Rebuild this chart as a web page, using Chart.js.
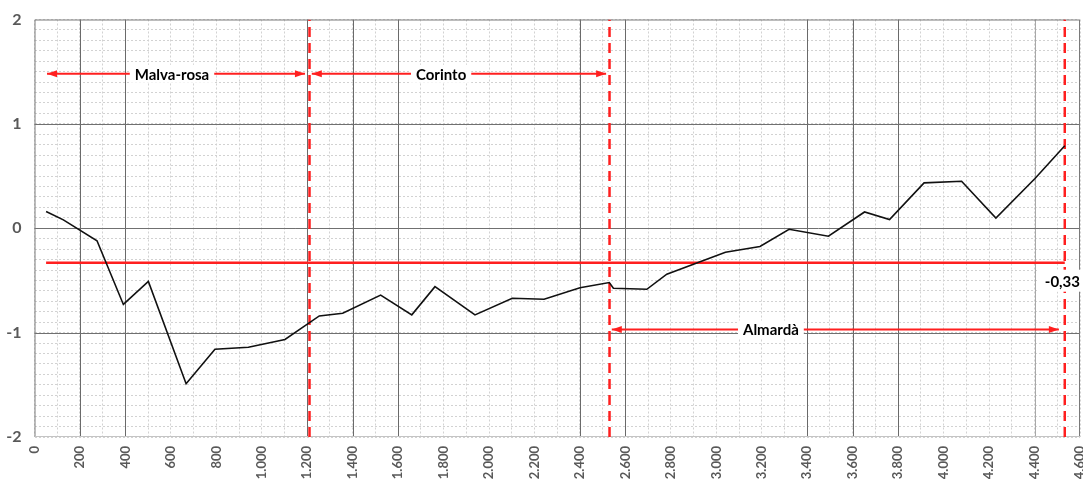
<!DOCTYPE html>
<html>
<head>
<meta charset="utf-8">
<script src="https://cdn.jsdelivr.net/npm/chart.js@4/dist/chart.umd.min.js"></script>
<style>
  html, body { margin: 0; padding: 0; background: #fff; }
  #wrap { width: 1083px; height: 479px; position: relative; }
</style>
</head>
<body>
<div id="wrap"><canvas id="chart"></canvas></div>
<script>
// Perfil (distància en m / valor)
const distances = [51, 127, 275, 391, 501, 667, 794, 941, 1102, 1253, 1356, 1523, 1660, 1762, 1938,
  2102, 2242, 2400, 2529, 2547, 2694, 2782, 3040, 3192, 3320, 3493, 3652, 3762, 3914, 4079, 4230, 4402, 4533];
const values = [0.16, 0.08, -0.12, -0.73, -0.51, -1.49, -1.16, -1.14, -1.065, -0.84, -0.815, -0.64, -0.83, -0.56, -0.83,
  -0.67, -0.68, -0.57, -0.52, -0.575, -0.585, -0.44, -0.23, -0.175, -0.01, -0.076, 0.156, 0.084, 0.435, 0.45, 0.097, 0.477, 0.79];

const meanValue = -0.33;
const meanLabel = '-0,33';

// Trams de platja
const zoneNames = ['Malva-rosa', 'Corinto', 'Almardà'];
const zoneFrom = [55, 1220, 2540];
const zoneTo = [1190, 2515, 4507];
const zoneLevel = [1.48, 1.48, -0.97];
const zoneTextAt = [605, 1789, 3240];
const zoneBounds = [1210, 2530, 4533];

// Línies principals de la graella
const majorX = [200, 400, 1200, 1400, 1600, 2400, 2600, 3400, 3600, 3800];
const majorY = [-1, 0, 1];

const fmt = v => String(v).replace(/\B(?=(\d{3})+(?!\d))/g, '.');

const datasets = [
  {
    label: 'perfil',
    data: distances.map((d, i) => ({ x: d, y: values[i] })),
    borderColor: '#111', borderWidth: 1.6, pointRadius: 0, showLine: true, tension: 0, order: 1
  },
  {
    label: 'mitjana',
    data: [{ x: distances[0], y: meanValue }, { x: distances[distances.length - 1], y: meanValue }],
    borderColor: '#ff1f1f', borderWidth: 2.5, pointRadius: 0, showLine: true, order: 2
  }
];
zoneBounds.forEach(b => datasets.push({
  label: 'límit',
  data: [{ x: b, y: -2 }, { x: b, y: 2 }],
  borderColor: '#ff1f1f', borderWidth: 2.5, borderDash: [10, 6], pointRadius: 0, showLine: true, order: 3
}));
zoneNames.forEach((n, i) => datasets.push({
  label: n,
  data: [{ x: zoneFrom[i], y: zoneLevel[i] }, { x: zoneTo[i], y: zoneLevel[i] }],
  borderColor: '#ff1f1f', borderWidth: 2, pointRadius: 0, showLine: true, order: 3
}));

const decor = {
  id: 'decor',
  beforeDatasetsDraw(chart) {
    const { ctx, chartArea: a, scales: { x, y } } = chart;
    ctx.save();
    ctx.lineWidth = 1;
    ctx.strokeStyle = '#6a6a6a';
    majorX.forEach(v => {
      const px = Math.round(x.getPixelForValue(v)) + 0.5;
      ctx.beginPath(); ctx.moveTo(px, a.top); ctx.lineTo(px, a.bottom); ctx.stroke();
    });
    ctx.strokeStyle = '#a8a8a8';
    const p44 = Math.round(x.getPixelForValue(4400)) + 0.5;
    ctx.beginPath(); ctx.moveTo(p44, a.top); ctx.lineTo(p44, a.bottom); ctx.stroke();
    ctx.strokeStyle = '#707070';
    majorY.forEach(v => {
      const py = Math.round(y.getPixelForValue(v)) + 0.5;
      ctx.beginPath(); ctx.moveTo(a.left, py); ctx.lineTo(a.right, py); ctx.stroke();
    });
    ctx.strokeStyle = '#7a7a7a';
    ctx.beginPath();
    ctx.moveTo(a.left + 0.5, a.bottom); ctx.lineTo(a.left + 0.5, a.top + 0.5);
    ctx.lineTo(a.right - 0.5, a.top + 0.5); ctx.lineTo(a.right - 0.5, a.bottom);
    ctx.stroke();
    ctx.strokeStyle = '#c4c4c4';
    ctx.beginPath(); ctx.moveTo(a.left, a.bottom - 0.5); ctx.lineTo(a.right, a.bottom - 0.5); ctx.stroke();
    ctx.restore();
  },
  afterDatasetsDraw(chart) {
    const { ctx, chartArea: a, scales: { x, y } } = chart;
    ctx.save();
    ctx.fillStyle = '#ff1f1f';
    const head = (px, py, dir) => {
      ctx.beginPath();
      ctx.moveTo(px, py);
      ctx.lineTo(px - dir * 10, py - 3.5);
      ctx.lineTo(px - dir * 10, py + 3.5);
      ctx.closePath(); ctx.fill();
    };
    ctx.font = 'bold 15px Lato, "Open Sans", sans-serif';
    ctx.textAlign = 'center';
    ctx.textBaseline = 'middle';
    zoneNames.forEach((n, i) => {
      const py = y.getPixelForValue(zoneLevel[i]);
      head(x.getPixelForValue(zoneFrom[i]), py, -1);
      head(x.getPixelForValue(zoneTo[i]), py, 1);
      const tx = x.getPixelForValue(zoneTextAt[i]);
      const w = ctx.measureText(n).width;
      ctx.fillStyle = '#fff';
      ctx.fillRect(tx - w / 2 - 5, py - 9, w + 10, 18);
      ctx.fillStyle = '#000';
      ctx.fillText(n, tx, py + 1);
      ctx.fillStyle = '#ff1f1f';
    });
    // etiqueta de la mitjana, ajustada a la vora dreta
    const my = y.getPixelForValue(meanValue) + 18;
    ctx.font = 'bold 15px Lato, "Open Sans", sans-serif';
    const mw = ctx.measureText(meanLabel).width;
    const mr = a.right;
    ctx.fillStyle = '#fff';
    ctx.fillRect(mr - mw - 7, my - 11, mw + 10, 22);
    ctx.fillStyle = '#000';
    ctx.textAlign = 'right';
    ctx.fillText(meanLabel, mr, my + 1);
    ctx.restore();
  }
};

new Chart(document.getElementById('chart'), {
  type: 'scatter',
  data: { datasets },
  options: {
    responsive: true,
    maintainAspectRatio: false,
    animation: false,
    layout: { padding: { top: 19.5, right: 3, left: 0, bottom: 0 } },
    plugins: { legend: { display: false }, tooltip: { enabled: false } },
    scales: {
      x: {
        type: 'linear', min: 0, max: 4600,
        afterFit: s => { s.height = 42; s.paddingLeft = 0; s.paddingRight = 0; },
        grid: { color: '#d2d2d2', lineWidth: 1, drawTicks: false },
        border: { display: false, dash: [2, 2] },
        ticks: {
          stepSize: 100, autoSkip: false, maxRotation: 90, minRotation: 90, padding: 9,
          color: '#595959', font: { family: 'Lato, "Open Sans", sans-serif', size: 13, weight: 'bold' },
          callback: v => (v % 200 === 0 ? fmt(v) : '')
        }
      },
      y: {
        type: 'linear', min: -2, max: 2,
        afterFit: s => { s.width = 34.5; s.paddingTop = 0; s.paddingBottom = 0; },
        grid: { color: '#d2d2d2', lineWidth: 1, drawTicks: false },
        border: { display: false, dash: [2, 2] },
        ticks: {
          stepSize: 0.1, autoSkip: false, padding: 13,
          color: '#595959', font: { family: 'Lato, "Open Sans", sans-serif', size: 16, weight: 'bold' },
          callback: v => (Math.abs(v - Math.round(v)) < 1e-6 ? String(Math.round(v)) : '')
        }
      }
    }
  },
  plugins: [decor]
});
</script>
</body>
</html>
